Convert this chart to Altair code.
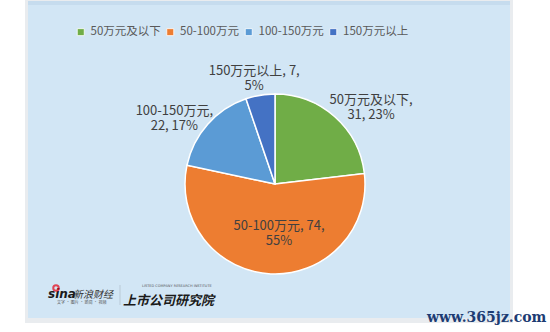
import math
import altair as alt
import pandas as pd

# Pie data
categories = ["50万元及以下", "50-100万元", "100-150万元", "150万元以上"]
counts = [31, 74, 22, 7]
percents = ["23%", "55%", "17%", "5%"]
colors = ["#70AD47", "#ED7D31", "#5B9BD5", "#4472C4"]
# whether the data label wraps after the count (else after the category)
wrap_after_count = [False, True, False, True]

FONT = "Noto Sans CJK SC"
W, H = 550, 332
CX, CY, R = 275, 184, 90

labels = []
for cat, n, p, wrap in zip(categories, counts, percents, wrap_after_count):
    if wrap:
        labels.append(f"{cat}, {n},\n{p}")
    else:
        labels.append(f"{cat},\n{n}, {p}")

df = pd.DataFrame({
    "category": categories,
    "count": counts,
    "label": labels,
    "order": list(range(len(categories))),
})

one = pd.DataFrame({"k": [0]})

# card background with a faint shadow and a darker top band
shadow = alt.Chart(one).mark_rect(color="#E9ECEF").encode(
    x=alt.value(25), x2=alt.value(513), y=alt.value(0), y2=alt.value(323)
)
panel = alt.Chart(one).mark_rect(color="#D2E6F5").encode(
    x=alt.value(28), x2=alt.value(510), y=alt.value(1), y2=alt.value(318)
)
top_band = alt.Chart(one).mark_rect(color="#C6DCEE").encode(
    x=alt.value(28), x2=alt.value(510), y=alt.value(1), y2=alt.value(5)
)

pie = alt.Chart(df).mark_arc(radius=R, stroke="white", strokeWidth=1.5).encode(
    theta=alt.Theta("count:Q", stack=True),
    order=alt.Order("order:Q"),
    color=alt.Color(
        "category:N",
        scale=alt.Scale(domain=categories, range=colors),
        legend=alt.Legend(
            orient="none", legendX=75, legendY=26, direction="horizontal",
            title=None, symbolType="square", symbolSize=49,
            symbolStrokeWidth=0.8, symbolStrokeColor="white",
            labelFont=FONT, labelFontSize=11.5, labelColor="#595959",
            labelOffset=4, columnPadding=3.5, padding=0,
        ),
    ),
    x=alt.value(CX),
    y=alt.value(CY),
)

# data labels placed at each slice's mid-angle
label_base = (
    alt.Chart(df)
    .transform_joinaggregate(total="sum(count)")
    .transform_window(cum="sum(count)", sort=[alt.SortField("order")])
    .transform_calculate(mid="(datum.cum - datum.count / 2) / datum.total * 2 * PI")
)
# (radius, dx, dy) for each label
label_layout = [(128, 11, 12), (42, 6, 0), (124, -8, 9), (115, -2, 0)]
label_layers = []
for i, (rad, ddx, ddy) in enumerate(label_layout):
    label_layers.append(
        label_base.transform_filter(alt.datum.order == i)
        .mark_text(font=FONT, fontSize=13, color="#404040", lineBreak="\n",
                   align="center", baseline="middle", lineHeight=15,
                   dx=ddx, dy=ddy)
        .encode(
            theta=alt.Theta("mid:Q", scale=None),
            radius=alt.value(rad),
            text="label:N",
            x=alt.value(CX),
            y=alt.value(CY),
        )
    )

# brand marks at the bottom
sina = alt.Chart(one).mark_text(
    text="sina", font="DejaVu Sans", fontSize=12, fontWeight="bold", fontStyle="italic",
    color="#1A1A1A", align="left", baseline="alphabetic"
).encode(x=alt.value(48), y=alt.value(298))
sina_eye = alt.Chart(one).mark_point(
    shape="circle", size=30, filled=False, color="#E60012", strokeWidth=2
).encode(x=alt.value(56), y=alt.value(288))
sina_cn = alt.Chart(one).mark_text(
    text="新浪财经", font=FONT, fontSize=10, fontStyle="italic",
    color="#333333", align="left", baseline="alphabetic"
).encode(x=alt.value(73), y=alt.value(298))
sina_tag = alt.Chart(one).mark_text(
    text="文字 · 图片 · 新闻 · 视频", font=FONT, fontSize=4,
    color="#555555", align="left", baseline="alphabetic"
).encode(x=alt.value(57), y=alt.value(304))
divider = alt.Chart(one).mark_rule(color="#B9C9D6", strokeWidth=1).encode(
    x=alt.value(120), y=alt.value(285), y2=alt.value(305)
)
inst_small = alt.Chart(one).mark_text(
    text="LISTED COMPANY RESEARCH INSTITUTE", font="DejaVu Sans", fontSize=3.5,
    color="#555555", align="left", baseline="alphabetic"
).encode(x=alt.value(142), y=alt.value(287))
inst = alt.Chart(one).mark_text(
    text="上市公司研究院", font=FONT, fontSize=13, fontWeight="bold", fontStyle="italic",
    color="#1A1A1A", align="left", baseline="alphabetic"
).encode(x=alt.value(123), y=alt.value(305))
site = alt.Chart(one).mark_text(
    text="www.365jz.com", font="DejaVu Serif", fontSize=14, fontWeight="bold",
    color="#1D3C73", align="left", baseline="alphabetic"
).encode(x=alt.value(427), y=alt.value(322))

chart = alt.layer(
    shadow, panel, top_band, pie, *label_layers,
    sina, sina_eye, sina_cn, sina_tag, divider, inst_small, inst, site,
).properties(
    width=W, height=H, padding=0, autosize="none", background="white"
).configure_view(stroke="transparent")

chart.save("out.html", embed_options={"renderer": "svg", "actions": False})
